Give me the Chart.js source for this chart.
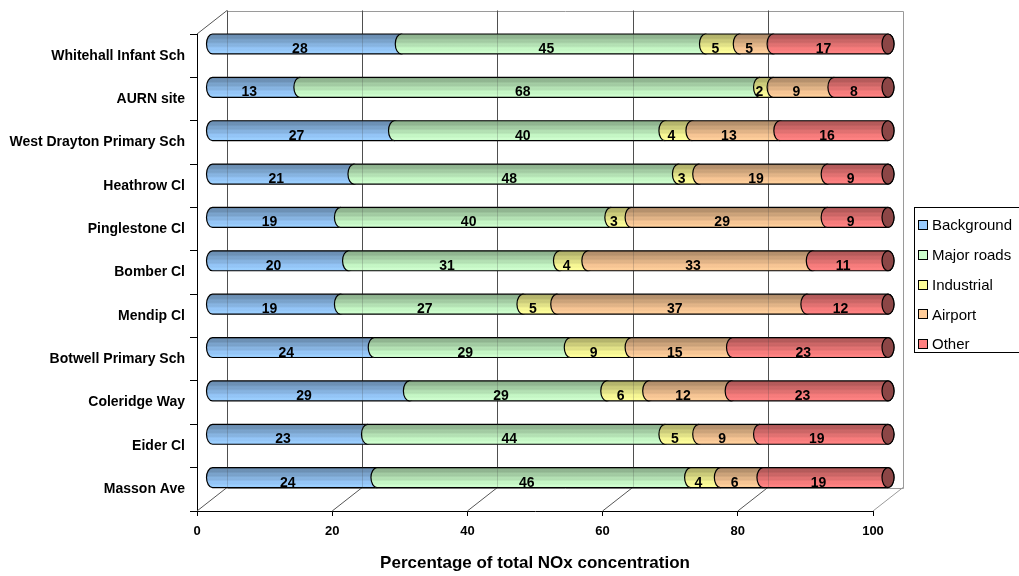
<!DOCTYPE html>
<html><head><meta charset="utf-8">
<script src="https://cdn.jsdelivr.net/npm/chart.js@4/dist/chart.umd.min.js"></script>
<style>html,body{margin:0;padding:0;background:#fff;} #wrap{width:1019px;height:576px;position:relative;}</style>
</head><body><div id="wrap"><canvas id="c"></canvas></div>
<script>
const sites = ["Whitehall Infant Sch","AURN site","West Drayton Primary Sch","Heathrow Cl","Pinglestone Cl","Bomber Cl","Mendip Cl","Botwell Primary Sch","Coleridge Way","Eider Cl","Masson Ave"];
const background = [28, 13, 27, 21, 19, 20.2, 19, 24, 29.2, 23, 24.4];
const majorRoads = [45, 68, 40, 48, 40, 31.2, 27, 29, 29.2, 44, 46.4];
const industrial = [5, 2, 4, 3, 3, 4.2, 5, 9, 6.2, 5, 4.4];
const airport    = [5, 9, 13, 19, 29, 33.2, 37, 15, 12.2, 9, 6.3];
const other      = [17, 8, 16, 9, 9, 11.2, 12, 23, 23.2, 19, 18.5];
const seriesNames = ["Background","Major roads","Industrial","Airport","Other"];
const seriesColors = ["#99CCFF","#CCFFCC","#FFFF99","#FFCC99","#FF8080"];
const xTicks = [0, 20, 40, 60, 80, 100];
const axisTitle = "Percentage of total NOx concentration";

const FONT = '"Liberation Sans", Arial, sans-serif';
const DX = 30, DY = -23.5;     // back wall depth
const BX = 15, BY = -11.7;     // cylinder depth
const LX = 8, LY = -6.5;       // value label shift

function shade(hex, f) {
  const n = parseInt(hex.slice(1), 16);
  const r = Math.round(((n >> 16) & 255) * f), g = Math.round(((n >> 8) & 255) * f), b = Math.round((n & 255) * f);
  return `rgb(${Math.min(255,r)},${Math.min(255,g)},${Math.min(255,b)})`;
}

const wallPlugin = {
  id: 'wall',
  beforeDatasetsDraw(chart) {
    const {ctx, chartArea: {left, right, top, bottom}, scales: {x}} = chart;
    ctx.save();
    ctx.lineWidth = 1;
    ctx.strokeStyle = '#9a9a9a';
    ctx.beginPath();
    ctx.moveTo(Math.round(left + DX) + 0.5, Math.round(top + DY) + 0.5);
    ctx.lineTo(Math.round(right + DX) + 0.5, Math.round(top + DY) + 0.5);
    ctx.lineTo(Math.round(right + DX) + 0.5, Math.round(bottom + DY) + 0.5);
    ctx.lineTo(Math.round(left + DX) + 0.5, Math.round(bottom + DY) + 0.5);
    ctx.stroke();
    ctx.strokeStyle = '#555';
    ctx.beginPath();
    ctx.moveTo(left, top); ctx.lineTo(left + DX, top + DY);
    ctx.stroke();
    xTicks.forEach(v => {
      const px = x.getPixelForValue(v);
      ctx.strokeStyle = v === 100 ? '#9a9a9a' : '#555';
      if (v < 100) {
        ctx.beginPath();
        ctx.moveTo(Math.round(px + DX) + 0.5, top + DY);
        ctx.lineTo(Math.round(px + DX) + 0.5, bottom + DY);
        ctx.stroke();
      }
      ctx.beginPath();
      ctx.moveTo(px, bottom); ctx.lineTo(px + DX, bottom + DY);
      ctx.stroke();
    });
    ctx.restore();
  },
  afterDatasetsDraw(chart) {
    const {ctx, chartArea: {top, bottom}, scales: {x}} = chart;
    const nSeries = chart.data.datasets.length;
    ctx.save();
    for (let i = 0; i < sites.length; i++) {
      let lastEl = null;
      for (let d = 0; d < nSeries; d++) {
        const el = chart.getDatasetMeta(d).data[i];
        const x0 = Math.min(el.base, el.x) + BX, x1 = Math.max(el.base, el.x) + BX;
        const yc = el.y + BY, ry = el.height / 2, rx = 6;
        const t = yc - ry, b = yc + ry;
        const base = seriesColors[d];
        const g = ctx.createLinearGradient(0, t, 0, b);
        const steps = 10;
        for (let s = 0; s <= steps; s++) {
          const p = s / steps;
          const f = 0.64 + 0.36 * Math.min(1, p / 0.85) + (s % 2 ? 0.035 : -0.02);
          g.addColorStop(p, shade(base, Math.min(1.02, f)));
        }
        ctx.beginPath();
        ctx.moveTo(x0, t);
        ctx.lineTo(x1, t);
        ctx.ellipse(x1, yc, rx, ry, 0, -Math.PI / 2, Math.PI / 2, false);
        ctx.lineTo(x0, b);
        ctx.ellipse(x0, yc, rx, ry, 0, Math.PI / 2, 3 * Math.PI / 2, false);
        ctx.closePath();
        ctx.fillStyle = g;
        ctx.fill();
        ctx.strokeStyle = '#000';
        ctx.lineWidth = 1.2;
        ctx.stroke();
        lastEl = {x1, yc, rx, ry, d};
      }
      ctx.beginPath();
      ctx.ellipse(lastEl.x1, lastEl.yc, lastEl.rx, lastEl.ry, 0, 0, Math.PI * 2);
      ctx.fillStyle = shade(seriesColors[lastEl.d], 0.55);
      ctx.fill();
      ctx.strokeStyle = '#000';
      ctx.lineWidth = 1.2;
      ctx.stroke();
    }
    ctx.lineWidth = 1;
    ctx.strokeStyle = 'rgba(60,60,60,0.22)';
    xTicks.forEach(v => {
      if (v === 100) return;
      const px = Math.round(x.getPixelForValue(v) + DX) + 0.5;
      ctx.beginPath(); ctx.moveTo(px, top + DY); ctx.lineTo(px, bottom + DY); ctx.stroke();
    });
    ctx.fillStyle = '#000';
    ctx.font = 'bold 14px ' + FONT;
    ctx.textAlign = 'center';
    ctx.textBaseline = 'middle';
    for (let d = 0; d < nSeries; d++) {
      const meta = chart.getDatasetMeta(d);
      meta.data.forEach((el, i) => {
        const v = chart.data.datasets[d].data[i];
        ctx.fillText(String(Math.round(v)), (el.base + el.x) / 2 + LX, el.y + LY);
      });
    }
    ctx.restore();
  },
  afterDraw(chart) {
    const {ctx} = chart;
    ctx.save();
    ctx.strokeStyle = '#000';
    ctx.lineWidth = 1;
    ctx.strokeRect(914.5, 207.5, 120, 145);
    ctx.font = '15px ' + FONT;
    ctx.textAlign = 'left';
    ctx.textBaseline = 'middle';
    chart.data.datasets.forEach((ds, k) => {
      const y = 225 + k * 29.8;
      ctx.fillStyle = seriesColors[k];
      ctx.fillRect(918, Math.round(y - 5), 10, 10);
      ctx.strokeRect(918.5, Math.round(y - 5) + 0.5, 9, 9);
      ctx.fillStyle = '#000';
      ctx.fillText(ds.label, 932, y + 1);
    });
    ctx.restore();
  }
};

const seriesData = [background, majorRoads, industrial, airport, other];

new Chart(document.getElementById('c'), {
  type: 'bar',
  data: {
    labels: sites,
    datasets: seriesNames.map((name, k) => ({
      label: name,
      data: seriesData[k],
      backgroundColor: 'rgba(0,0,0,0)',
      borderWidth: 0,
      categoryPercentage: 1,
      barPercentage: 0.46
    }))
  },
  options: {
    indexAxis: 'y',
    responsive: true,
    maintainAspectRatio: false,
    animation: false,
    events: [],
    layout: {padding: {left: 0, right: 146, top: 34, bottom: 0}},
    plugins: {legend: {display: false}, tooltip: {enabled: false}},
    scales: {
      x: {
        stacked: true,
        min: 0, max: 100,
        afterBuildTicks(s) { s.ticks = xTicks.map(v => ({value: v})); },
        afterFit(s) { s.height = 65; },
        grid: {drawOnChartArea: false, drawTicks: true, tickLength: 5, color: '#000'},
        border: {display: true, color: '#000', width: 1},
        ticks: {color: '#000', padding: 8, font: {family: FONT, size: 13, weight: 'bold'}},
        title: {display: true, text: axisTitle, color: '#000', font: {family: FONT, size: 17, weight: 'bold'}, padding: {top: 0, bottom: 2}}
      },
      y: {
        stacked: true,
        afterFit(s) { s.width = 197; },
        grid: {drawOnChartArea: false, drawTicks: true, tickLength: 7, color: '#000'},
        border: {display: true, color: '#000', width: 1},
        ticks: {color: '#000', padding: 5, font: {family: FONT, size: 14, weight: 'bold'}}
      }
    }
  },
  plugins: [wallPlugin]
});
</script>
</body></html>
